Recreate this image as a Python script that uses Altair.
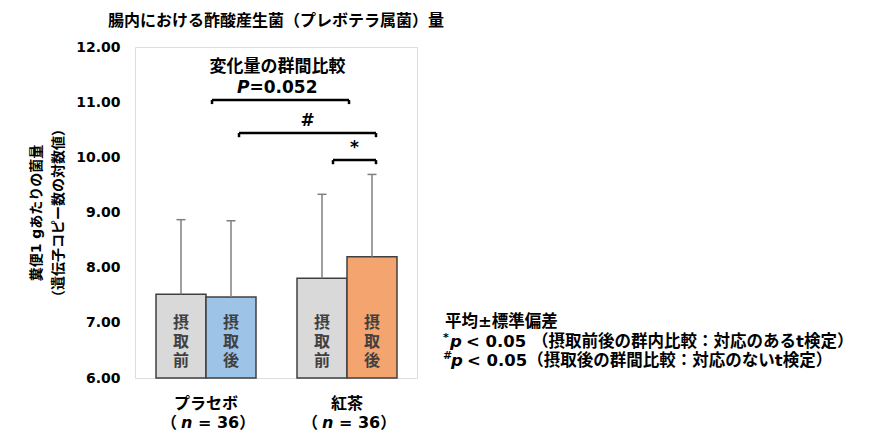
import altair as alt
import pandas as pd

# ---------------- data ----------------
groups = ["プラセボ", "紅茶"]
group_n = [36, 36]
phases = ["摂取前", "摂取後"]
means = [7.52, 7.47, 7.81, 8.20]        # placebo before/after, tea before/after
sds = [1.35, 1.38, 1.52, 1.49]
bar_colors = ["#d9d9d9", "#9dc3e6", "#d9d9d9", "#f4a46e"]
y_ticks = [6, 7, 8, 9, 10, 11, 12]

bracket_labels = ["P=0.052", "#", "*"]
bracket_levels = [11.04, 10.44, 9.95]

title_text = "腸内における酢酸産生菌（プレボテラ属菌）量"
y_title = ["糞便1 gあたりの菌量", "（遺伝子コピー数の対数値）"]
note_sd = "平均±標準偏差"
note_star = "< 0.05 （摂取前後の群内比較：対応のあるt検定）"
note_hash = "< 0.05（摂取後の群間比較：対応のないt検定）"
compare_title = "変化量の群間比較"

FONT = "DejaVu Sans, Noto Sans CJK JP"

# ---------------- layout (bar width = 1 x-unit) ----------------
G0, GSTEP, XMAX = 0.42, 2.82, 5.64

rows = []
k = 0
for g, grp in enumerate(groups):
    for p, ph in enumerate(phases):
        x0 = G0 + g * GSTEP + p
        rows.append(dict(group=grp, phase=ph, x0=x0, x1=x0 + 1, xc=x0 + 0.5,
                         mean=means[k], top=means[k] + sds[k], base=6,
                         color=bar_colors[k], label="\n".join(ph)))
        k += 1
bars = pd.DataFrame(rows)
bars["cap0"] = bars["xc"] - 0.09
bars["cap1"] = bars["xc"] + 0.09

centers = list(bars["xc"])
gcenters = [G0 + g * GSTEP + 1 for g in range(len(groups))]
br_left = [gcenters[0] + 0.12, centers[1] + 0.16, centers[2] + 0.22]
br_right = [gcenters[1] + 0.04, centers[3] + 0.08, centers[3] + 0.08]
brk = pd.DataFrame(dict(label=bracket_labels, y=bracket_levels, xl=br_left, xr=br_right))
brk["ye"] = brk["y"] - 0.075
brk["xm"] = (brk["xl"] + brk["xr"]) / 2

grp_df = pd.DataFrame(dict(group=groups, xc=gcenters, base=[6, 6],
                           n=[f"= {n}）" for n in group_n]))

xs = alt.Scale(domain=[0, XMAX], nice=False, zero=False)
ys = alt.Scale(domain=[6, 12], nice=False, zero=False)
X = lambda f: alt.X(f"{f}:Q", scale=xs, axis=None)

base_bars = alt.Chart(bars)

bar_layer = base_bars.mark_bar(stroke="#404040", strokeWidth=1.5).encode(
    x=X("x0"), x2="x1",
    y=alt.Y("base:Q", scale=ys,
            axis=alt.Axis(values=y_ticks, format=".2f", title=y_title, grid=False,
                          ticks=False, domain=False, labelPadding=15,
                          labelFontSize=14, labelFontWeight="bold", labelColor="#000",
                          labelFont=FONT, titleFont=FONT, titleFontSize=14,
                          titleFontWeight="bold", titleColor="#000",
                          titleLineHeight=22, titlePadding=10)),
    y2="mean",
    fill=alt.Fill("color:N", scale=None),
)

err = base_bars.mark_rule(color="#7f7f7f", strokeWidth=1.5).encode(
    x=X("xc"), y=alt.Y("mean:Q", scale=ys), y2="top")
cap = base_bars.mark_rule(color="#7f7f7f", strokeWidth=1.5).encode(
    x=X("cap0"), x2="cap1", y=alt.Y("top:Q", scale=ys))

inbar = base_bars.mark_text(font=FONT, fontSize=16, fontWeight="bold", color="#404040",
                            lineBreak="\n", lineHeight=19, baseline="middle",
                            dy=-55).encode(
    x=X("xc"), y=alt.Y("base:Q", scale=ys), text="label:N")

bbase = alt.Chart(brk)
hline = bbase.mark_rule(color="#000", strokeWidth=2.5).encode(
    x=X("xl"), x2="xr", y=alt.Y("y:Q", scale=ys))
lend = bbase.mark_rule(color="#000", strokeWidth=2.5).encode(
    x=X("xl"), y=alt.Y("y:Q", scale=ys), y2="ye")
rend = bbase.mark_rule(color="#000", strokeWidth=2.5).encode(
    x=X("xr"), y=alt.Y("y:Q", scale=ys), y2="ye")

sym = bbase.transform_filter(alt.datum.label != bracket_labels[0]).mark_text(
    font=FONT, fontSize=17, fontWeight="bold", color="#000", baseline="middle", dy=-12
).encode(x=X("xm"), y=alt.Y("y:Q", scale=ys), text="label:N")

pfirst = bbase.transform_filter(alt.datum.label == bracket_labels[0])
p_ital = pfirst.transform_calculate(t="substring(datum.label, 0, 1)").mark_text(
    font=FONT, fontSize=17, fontWeight="bold", fontStyle="italic", color="#000",
    baseline="middle", align="right", dx=-31, dy=-12
).encode(x=X("xm"), y=alt.Y("y:Q", scale=ys), text="t:N")
p_rest = pfirst.transform_calculate(t="substring(datum.label, 1)").mark_text(
    font=FONT, fontSize=17, fontWeight="bold", color="#000",
    baseline="middle", align="left", dx=-31, dy=-12
).encode(x=X("xm"), y=alt.Y("y:Q", scale=ys), text="t:N")
p_title = pfirst.transform_calculate(t=f"'{compare_title}'").mark_text(
    font=FONT, fontSize=17, fontWeight="bold", color="#000",
    baseline="middle", dx=-3, dy=-33
).encode(x=X("xm"), y=alt.Y("y:Q", scale=ys), text="t:N")

gbase = alt.Chart(grp_df)
gname = gbase.mark_text(font=FONT, fontSize=16, fontWeight="bold", color="#000",
                        baseline="middle", dy=26).encode(
    x=X("xc"), y=alt.Y("base:Q", scale=ys), text="group:N")
gpar = gbase.transform_calculate(t="'（'").mark_text(
    font=FONT, fontSize=16, fontWeight="bold", color="#000", baseline="middle",
    align="right", dx=-29, dy=45).encode(
    x=X("xc"), y=alt.Y("base:Q", scale=ys), text="t:N")
gnit = gbase.transform_calculate(t="'n'").mark_text(
    font=FONT, fontSize=16, fontWeight="bold", fontStyle="italic", color="#000",
    baseline="middle", align="left", dx=-25, dy=45).encode(
    x=X("xc"), y=alt.Y("base:Q", scale=ys), text="t:N")
grest = gbase.mark_text(font=FONT, fontSize=16, fontWeight="bold", color="#000",
                        baseline="middle", align="left", dx=-8, dy=45).encode(
    x=X("xc"), y=alt.Y("base:Q", scale=ys), text="n:N")

# notes to the right of the plot (pixel positions in the plot frame)
def note(text, x, y, size=16.5, style="normal"):
    return alt.Chart(pd.DataFrame(dict(t=[text]))).mark_text(
        font=FONT, fontSize=size, fontWeight="bold", fontStyle=style, color="#000",
        align="left", baseline="middle"
    ).encode(x=alt.value(x), y=alt.value(y), text="t:N")

notes = [
    note(note_sd, 310, 275),
    note("*", 308, 291, size=11),
    note("p", 315, 295, style="italic"),
    note(note_star, 331, 295),
    note("#", 308, 309, size=11),
    note("p", 316, 314, style="italic"),
    note(note_hash, 332, 314),
]

chart = alt.layer(
    bar_layer, err, cap, inbar, hline, lend, rend, sym, p_ital, p_rest, p_title,
    gname, gpar, gnit, grest, *notes
).properties(
    width=282, height=331,
    title=alt.TitleParams(title_text, font=FONT, fontSize=16, fontWeight="bold",
                          color="#000", anchor="middle", offset=11),
    autosize=alt.AutoSizeParams(type="none"),
    padding={"left": 127, "top": 39, "right": 456, "bottom": 53},
).configure_view(stroke="#000", strokeWidth=1.5).configure(background="white")

chart.save("out.html", embed_options={"renderer": "svg", "actions": False})
